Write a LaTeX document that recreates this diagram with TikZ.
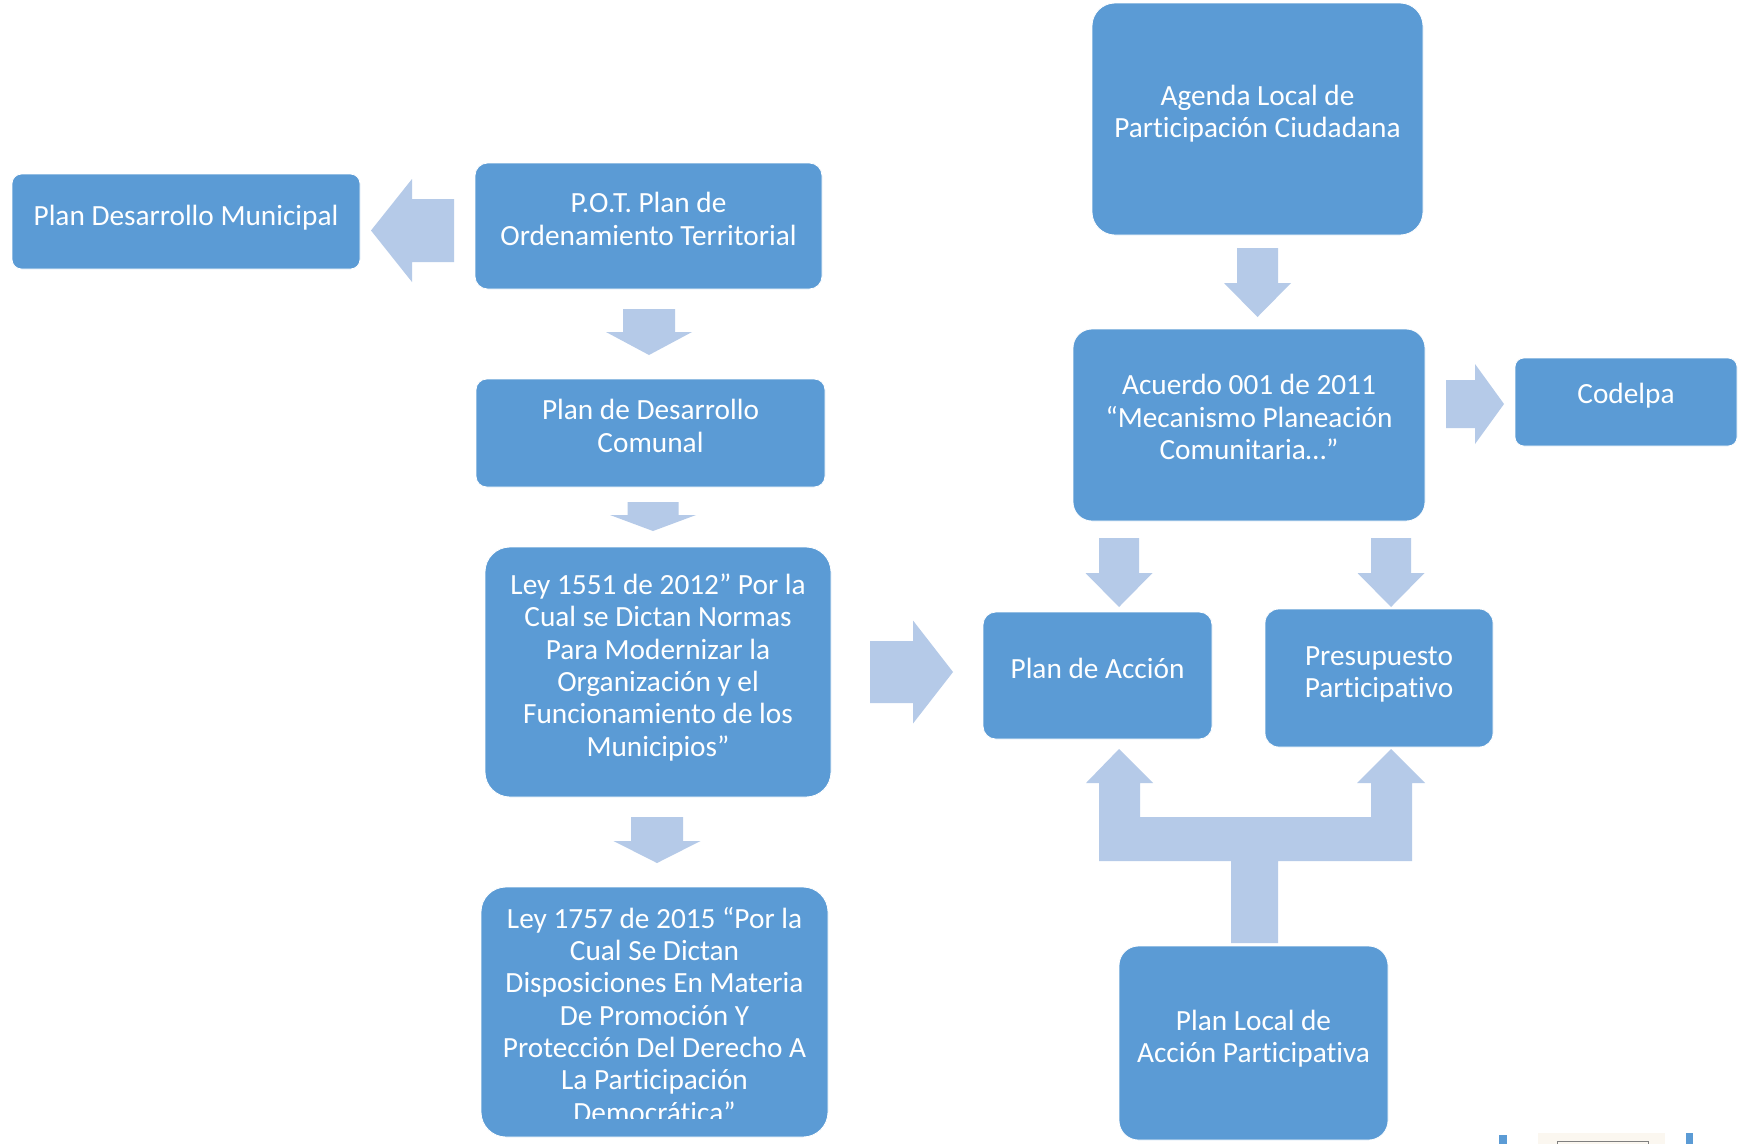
\documentclass[tikz,border=0pt]{standalone}
\usepackage{fontspec}
\setmainfont{Carlito}[Ligatures={NoCommon},RawFeature={-liga}]
\definecolor{boxblue}{HTML}{5B9BD5}
\definecolor{arrowblue}{HTML}{B5CAE8}
\definecolor{creamy}{HTML}{FBF7F0}
\newcommand\zs{\rule[-7.8pt]{0pt}{32.3pt}}
\newcommand\dnarrow[6]{% cx, top, head base, tip, shaft half width, head half width
  \fill[arrowfill] (#1-#5,#2) -- (#1+#5,#2) -- (#1+#5,#3) -- (#1+#6,#3) -- (#1,#4)
    -- (#1-#6,#3) -- (#1-#5,#3) -- cycle;}
\newcommand\hzarrow[6]{% cy, start, head base, tip, shaft half width, head half width
  \fill[arrowfill] (#2,#1-#5) -- (#3,#1-#5) -- (#3,#1-#6) -- (#4,#1) -- (#3,#1+#6)
    -- (#3,#1+#5) -- (#2,#1+#5) -- cycle;}
\tikzset{
  box/.style={rectangle, fill=boxblue, draw=white, line width=0.8pt, inner sep=0pt, outer sep=0pt},
  txt/.style={text=white, align=center, inner sep=0pt, outer sep=0pt,
    font=\fontsize{29.3}{32.3}\selectfont},
  arrowfill/.style={fill=arrowblue},
}
\begin{document}
\begin{tikzpicture}[x=1pt,y=-1pt]
\useasboundingbox[fill=white] (0,0) rectangle (1747,1144);

% ---- boxes ----
\node[box, minimum width=348, minimum height=95, rounded corners=9.5] (pdm) at (186,221.5) {};
\node[box, minimum width=347, minimum height=126, rounded corners=12.6] (pot) at (648.5,226) {};
\node[box, minimum width=349, minimum height=108, rounded corners=10.8] (pdc) at (650.5,433) {};
\node[box, minimum width=346, minimum height=250, rounded corners=25] (ley1551) at (658,672) {};
\node[box, minimum width=347, minimum height=250, rounded corners=25] (ley1757) at (654.5,1012) {};
\node[box, minimum width=331, minimum height=232, rounded corners=23] (agenda) at (1257.5,119) {};
\node[box, minimum width=352, minimum height=192, rounded corners=19] (acuerdo) at (1249,425) {};
\node[box, minimum width=222, minimum height=88, rounded corners=8.8] (codelpa) at (1626,402) {};
\node[box, minimum width=229, minimum height=127, rounded corners=12.7] (accion) at (1097.5,675.5) {};
\node[box, minimum width=228, minimum height=138, rounded corners=13.8] (presup) at (1379,678) {};
\node[box, minimum width=269, minimum height=194, rounded corners=19.4] (plocal) at (1253.5,1043) {};

% ---- texts ----
\node[txt] (pdmt) at (186,217.1) {\zs Plan Desarrollo Municipal};
\node[txt] (pott) at (648.5,220.7) {\zs P.O.T. Plan de\\\zs Ordenamiento Territorial};
\node[txt] (pdct) at (650.5,427.7) {\zs Plan de Desarrollo\\\zs Comunal};
\node[txt] (ley1551t) at (658,667) {\zs Ley 1551 de 2012” Por la\\\zs Cual se Dictan Normas\\\zs Para Modernizar la\\\zs Organización y el\\\zs Funcionamiento de los\\\zs Municipios”};
\begin{scope}
\clip (481,887) rectangle (828,1118);
\node[txt] (ley1757t) at (654.5,1016.8) {\zs Ley 1757 de 2015 “Por la\\\zs Cual Se Dictan\\\zs Disposiciones En Materia\\\zs De Promoción Y\\\zs Protección Del Derecho A\\\zs La Participación\\\zs Democrática”};
\end{scope}
\node[txt] (agendat) at (1257.5,113.3) {\zs Agenda Local de\\\zs Participación Ciudadana};
\node[txt] (acuerdot) at (1249,418.7) {\zs Acuerdo 001 de 2011\\\zs “Mecanismo Planeación\\\zs Comunitaria…”};
\node[txt] (codelpat) at (1626,394.8) {\zs Codelpa};
\node[txt] (acciont) at (1097.5,669.8) {\zs Plan de Acción};
\node[txt] (presupt) at (1379,673.3) {\zs Presupuesto\\\zs Participativo};
\node[txt] (plocalt) at (1253.5,1038.1) {\zs Plan Local de\\\zs Acción Participativa};

% ---- block arrows ----
\hzarrow{230.5}{454}{412}{371}{31.5}{51.5}   % pot -> pdm
\dnarrow{649}{309}{332}{355}{26}{43}         % pot -> pdc
\dnarrow{653}{502}{515}{531}{25.5}{43}       % pdc -> ley1551
\dnarrow{657}{817}{841}{863}{26}{43.5}       % ley1551 -> ley1757
\hzarrow{672}{870}{913}{953}{31}{51.5}       % ley1551 -> accion
\dnarrow{1257.5}{248}{283}{317}{20.5}{33.5}  % agenda -> acuerdo
\hzarrow{404}{1446}{1475}{1504}{24}{40}      % acuerdo -> codelpa
\dnarrow{1119}{538}{573}{607}{20}{33.5}      % acuerdo -> accion
\dnarrow{1391}{538}{573}{607}{20}{33.5}      % acuerdo -> presup
% plocal -> accion / presup (branching arrow)
\fill[arrowfill] (1231,943) -- (1231,861) -- (1099,861) -- (1099,783) -- (1086,783)
  -- (1119,749) -- (1153,783) -- (1140,783) -- (1140,817) -- (1371,817) -- (1371,783)
  -- (1357,783) -- (1391,749) -- (1425,783) -- (1412,783) -- (1412,861) -- (1278,861)
  -- (1278,943) -- cycle;

% ---- cropped page remnants, bottom right ----
\fill[creamy] (1538,1133) rectangle (1665,1144);
\draw[gray, line width=0.8pt] (1557,1144) -- (1557,1141.5) -- (1648,1141.5) -- (1648,1144);
\fill[boxblue] (1499,1135) rectangle (1507,1144);
\fill[boxblue] (1686,1133) rectangle (1693,1144);
\end{tikzpicture}
\end{document}
